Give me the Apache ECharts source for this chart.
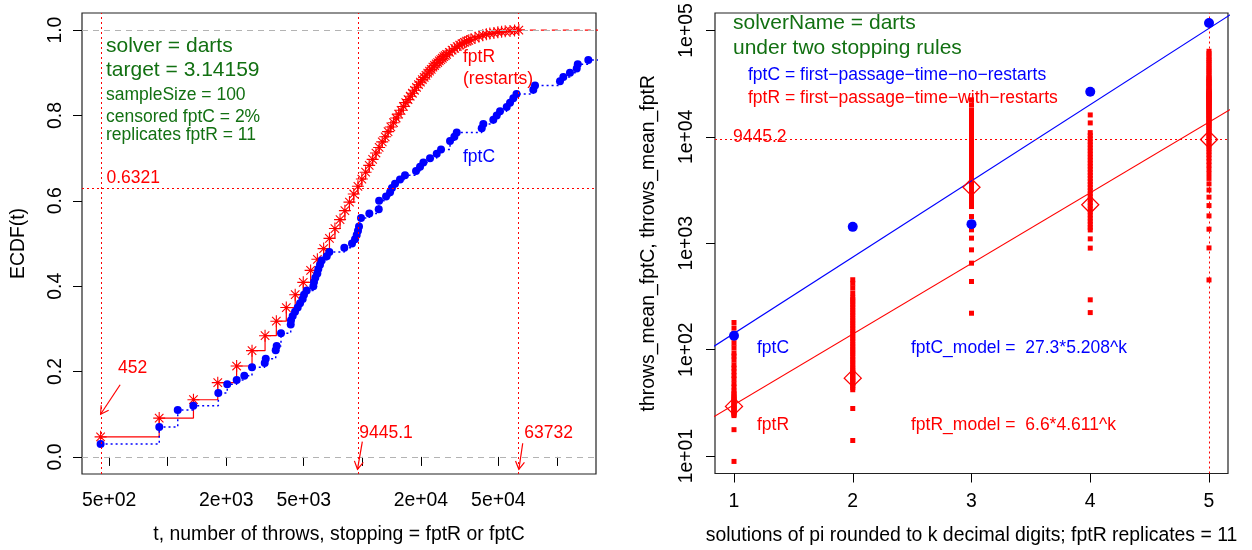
<!DOCTYPE html>
<html>
<head>
<meta charset="utf-8">
<script src="https://cdn.jsdelivr.net/npm/echarts@6/dist/echarts.min.js"></script>
<style>
  html, body { margin: 0; padding: 0; background: #fff; }
  #chart { width: 1252px; height: 550px; }
</style>
</head>
<body>
<div id="chart"></div>
<script>
// ---------- left panel: ECDF of the number of throws (darts, target 3.14159) ----------
const fptR_throws = [452, 904, 1356, 1808, 2260, 2712, 3164, 3616, 4068, 4520, 4972, 5424, 5876, 6328, 6780,
  7232, 7684, 8136, 8588, 9040, 9492, 9944, 10396, 10848, 11300, 11752, 12204, 12656, 13108, 13560,
  14012, 14464, 14916, 15368, 15820, 16272, 16724, 17176, 17628, 18080, 18532, 18984, 19436, 19888, 20340,
  20792, 21244, 21696, 22148, 22600, 23052, 23504, 23956, 24408, 24860, 25312, 25764, 26216, 26668, 27120,
  28024, 28928, 29832, 30736, 31640, 32544, 33448, 34352, 35256, 36160, 37968, 39776, 41584, 43392, 45200,
  47460, 49720, 51980, 54240, 57404, 60568, 63732];
const fptR_ecdf = [0.047, 0.091, 0.134, 0.174, 0.213, 0.249, 0.284, 0.318, 0.350, 0.380, 0.409, 0.437, 0.463, 0.488, 0.512,
  0.535, 0.556, 0.577, 0.597, 0.616, 0.634, 0.651, 0.667, 0.683, 0.697, 0.712, 0.725, 0.738, 0.750, 0.762,
  0.773, 0.783, 0.794, 0.803, 0.812, 0.821, 0.830, 0.837, 0.845, 0.852, 0.859, 0.866, 0.872, 0.878, 0.884,
  0.889, 0.894, 0.899, 0.904, 0.908, 0.913, 0.917, 0.921, 0.924, 0.928, 0.931, 0.934, 0.938, 0.940, 0.943,
  0.948, 0.953, 0.957, 0.961, 0.965, 0.968, 0.971, 0.974, 0.976, 0.978, 0.982, 0.985, 0.988, 0.990, 0.992,
  0.993, 0.995, 0.996, 0.997, 0.998, 0.999, 1.000];

const fptC_throws = [452, 905, 1126, 1354, 1820, 2023, 2262, 2475, 2711, 3152, 3190, 3589, 3630, 3821,
  4287, 4300, 4388, 4510, 4656, 4786, 4939, 5016, 5180, 5601, 5647, 5734, 5872, 5941, 6061, 6184, 6563, 6768,
  8083, 8853, 9174, 9359, 9500, 9617, 9847, 10865, 12144, 12200, 13240, 13884, 14200, 14725, 15618, 16571,
  18880, 19800, 20590, 22280, 24120, 25380, 28230, 29710, 30560, 41080, 41860, 47120, 49050, 51000,
  55210, 57410, 59700, 62000, 75630, 77180, 103700, 107900, 116700, 126400, 128000, 145000,
  190000, 240000, 320000];
const fptC_ecdf = [0.03, 0.07, 0.11, 0.12, 0.15, 0.17, 0.18, 0.19, 0.21, 0.22, 0.23, 0.25, 0.26, 0.29,
  0.31, 0.32, 0.33, 0.34, 0.35, 0.36, 0.37, 0.38, 0.39, 0.40, 0.41, 0.42, 0.43, 0.44, 0.45, 0.46, 0.47, 0.48,
  0.49, 0.50, 0.51, 0.52, 0.53, 0.54, 0.56, 0.57, 0.58, 0.60, 0.61, 0.62, 0.63, 0.64, 0.65, 0.66,
  0.67, 0.68, 0.69, 0.70, 0.71, 0.72, 0.74, 0.75, 0.76, 0.77, 0.78, 0.79, 0.80, 0.81,
  0.82, 0.83, 0.84, 0.85, 0.86, 0.87, 0.88, 0.89, 0.90, 0.91, 0.92, 0.93,
  0.94, 0.96, 0.98];

const fptR_mean_throws = 9445.1;
const ecdf_at_mean = 0.6321;
const fptR_min = 452;
const fptR_max = 63732;

const throwRange = [362.7, 158800];
const throwTicks = [500, 1000, 2000, 5000, 10000, 20000, 50000, 100000];
const throwTickLabels = ['5e+02', '', '2e+03', '5e+03', '', '2e+04', '5e+04', ''];
const ecdfTicks = [0, 0.2, 0.4, 0.6, 0.8, 1.0];
const ecdfTickLabels = ['0.0', '0.2', '0.4', '0.6', '0.8', '1.0'];

// ---------- right panel: mean throws versus k decimal digits of pi ----------
const digits = [1, 2, 3, 4, 5];
const digitTickLabels = ['1', '2', '3', '4', '5'];
const throws_mean_fptC = [135, 1426, 1512, 26500, 117400];
const throws_mean_fptR = [29.3, 54, 3365, 2297, 9445.2];
const fptC_model = [27.3, 5.208];
const fptR_model = [6.6, 4.611];

const fptR_k1 = [180, 160, 143, 128, 115, 104, 93, 87, 80, 72, 67, 62, 57, 53, 48, 44.5, 41, 39, 37.5, 36, 35,
  34, 33, 32, 31, 30, 29.3, 28.6, 28, 27.3, 26.6, 26, 25.3, 24.6, 24, 17.7, 8.9];
const fptR_k2 = [454, 420, 380, 340, 310, 295, 280, 265, 250, 236, 223, 211, 199, 188, 178, 168, 159, 150, 142,
  134, 127, 120, 113, 107, 101, 96, 91, 86, 81, 77, 73, 69, 66, 63, 61, 59, 57, 55, 53, 51.5, 50, 48, 46, 44, 42,
  28, 14];
const fptR_k3 = [22300, 20000, 17900, 16700, 15600, 14600, 13700, 12800, 12000, 11200, 10500, 9800, 9200, 8600,
  8000, 7500, 7000, 6600, 6150, 5750, 5400, 5050, 4700, 4400, 4100, 3850, 3600, 3370, 3150, 2950, 2750, 2570,
  2400, 2213, 1783, 1545, 1337, 1117, 867, 650, 437, 220];
const fptR_k4 = [16070, 13520, 10960, 10260, 9600, 9000, 8420, 7880, 7380, 6900, 6460, 6050, 5660, 5300, 4960,
  4640, 4350, 4070, 3810, 3570, 3340, 3120, 2920, 2740, 2560, 2400, 2250, 2100, 1970, 1840, 1720, 1610, 1510,
  1410, 1334, 1100, 900, 294, 223];
const fptR_k5 = fptR_throws;

const throwsAxisRange = [6.855, 145900];
const throwsTicks = [10, 100, 1000, 10000, 100000];
const throwsTickLabels = ['1e+01', '1e+02', '1e+03', '1e+04', '1e+05'];
const digitRange = [0.84, 5.16];

// ---------- helpers ----------
const LOG = v => Math.log10(v);
const FONT = 'Liberation Sans';
const AXIS_FS = 19.4;
const RED = '#ff0000', BLUE = '#0000ff', GREEN = '#127012', GREY = '#b3b3b3';
const DOT = [2, 3];

function labelLookup(values, labels, transform) {
  return v => {
    for (let i = 0; i < values.length; i++) {
      if (Math.abs(transform(values[i]) - v) < 1e-6) return labels[i];
    }
    return '';
  };
}
const ident = v => v;

function makeAxis(gridIndex, range, ticks, labels, transform, margin, rotate, name, nameGap) {
  return {
    gridIndex, type: 'value',
    min: transform(range[0]), max: transform(range[1]),
    splitLine: { show: false },
    axisLine: { show: false },
    axisTick: { show: true, inside: false, length: 9, lineStyle: { color: '#000', width: 1 },
      customValues: ticks.map(transform) },
    axisLabel: {
      customValues: ticks.filter((t, i) => labels[i] !== '').map(transform),
      formatter: labelLookup(ticks, labels, transform),
      margin, rotate, fontSize: AXIS_FS, color: '#000', fontFamily: FONT
    },
    name, nameLocation: 'middle', nameGap,
    nameTextStyle: { fontSize: AXIS_FS, color: '#000', fontFamily: FONT }
  };
}

// asterisk (pch 8 style)
const STAR = 'path://M0,-10L0,10M-10,0L10,0M-7.07,-7.07L7.07,7.07M-7.07,7.07L7.07,-7.07';

function renderArrow(params, api) {
  const p0 = api.coord([api.value(0), api.value(1)]);
  const p1 = api.coord([api.value(2), api.value(3)]);
  const ang = Math.atan2(p1[1] - p0[1], p1[0] - p0[0]);
  const L = 9, a = Math.PI / 6;
  const h1 = [p1[0] - L * Math.cos(ang - a), p1[1] - L * Math.sin(ang - a)];
  const h2 = [p1[0] - L * Math.cos(ang + a), p1[1] - L * Math.sin(ang + a)];
  return {
    type: 'group', children: [
      { type: 'line', shape: { x1: p0[0], y1: p0[1], x2: p1[0], y2: p1[1] }, style: { stroke: RED, lineWidth: 1.2 } },
      { type: 'polyline', shape: { points: [h1, p1, h2] }, style: { stroke: RED, fill: null, lineWidth: 1.2 } }
    ]
  };
}

// arrows pointing at the min, mean and max of fptR (tail -> head)
const arrows = [
  [LOG(fptR_min * 1.26), 0.169, LOG(fptR_min), 0.10],
  [LOG(fptR_mean_throws * 1.059), 0.036, LOG(fptR_mean_throws), -0.029],
  [LOG(fptR_max * 1.047), 0.032, LOG(fptR_max), -0.029]
];
const arrowText = [String(fptR_min), String(fptR_mean_throws), String(fptR_max)];
const arrowTextAt = [
  [LOG(fptR_min * 1.23), 0.208],
  [LOG(fptR_mean_throws * 1.022), 0.0555],
  [LOG(fptR_max * 1.067), 0.0555]
];

// sample points of fptR per k
const samplesR = [fptR_k1, fptR_k2, fptR_k3, fptR_k4, fptR_k5];
const sampleData = [];
samplesR.forEach((arr, i) => arr.forEach(v => sampleData.push([digits[i], LOG(v)])));

function modelLine(model) {
  const a = LOG(model[0]), b = LOG(model[1]);
  return [0.5, 5.5].map(k => [k, a + k * b]);
}

function txt(x, y, text, color, size) {
  return { type: 'text', x, y, silent: true,
    style: { text, fill: color, fontSize: size, fontFamily: FONT, align: 'left', verticalAlign: 'middle' } };
}

const dottedRed = { color: RED, type: DOT, width: 1 };

const option = {
  animation: false,
  backgroundColor: '#fff',
  grid: [
    { left: 82, top: 13, width: 514, height: 461, show: true, borderColor: '#222', borderWidth: 1.2, backgroundColor: 'transparent' },
    { left: 715, top: 13, width: 513, height: 461, show: true, borderColor: '#222', borderWidth: 1.2, backgroundColor: 'transparent' }
  ],
  xAxis: [
    makeAxis(0, throwRange, throwTicks, throwTickLabels, LOG, 17, 0,
      't, number of throws, stopping = fptR or fptC', 51.5),
    makeAxis(1, digitRange, digits, digitTickLabels, ident, 18.5, 0,
      'solutions of pi rounded to k decimal digits; fptR replicates = 11', 52.5)
  ],
  yAxis: [
    makeAxis(0, [-0.04, 1.04], ecdfTicks, ecdfTickLabels, ident, 16.5, 90, 'ECDF(t)', 54),
    makeAxis(1, throwsAxisRange, throwsTicks, throwsTickLabels, LOG, 19, 90,
      'throws_mean_fptC, throws_mean_fptR', 57)
  ],
  series: [
    // reference lines of the ECDF panel
    {
      type: 'line', xAxisIndex: 0, yAxisIndex: 0, silent: true, symbol: 'none', z: 1,
      data: [[LOG(fptR_max), 1], [LOG(throwRange[1] * 2), 1]],
      lineStyle: { color: RED, type: [6, 5], width: 1.2 },
      markLine: {
        silent: true, symbol: ['none', 'none'], label: { show: false },
        data: [
          { yAxis: 0, lineStyle: { color: GREY, type: [6, 5], width: 1.2 } },
          { yAxis: 1, lineStyle: { color: GREY, type: [6, 5], width: 1.2 } },
          { yAxis: ecdf_at_mean, lineStyle: dottedRed },
          { xAxis: LOG(fptR_min), lineStyle: dottedRed },
          { xAxis: LOG(fptR_mean_throws), lineStyle: dottedRed },
          { xAxis: LOG(fptR_max), lineStyle: dottedRed }
        ]
      }
    },
    {
      name: 'fptR', type: 'line', xAxisIndex: 0, yAxisIndex: 0, step: 'end', z: 3,
      data: fptR_throws.map((t, i) => [LOG(t), fptR_ecdf[i]]),
      symbol: STAR, symbolSize: 12,
      lineStyle: { color: RED, width: 1.2 },
      itemStyle: { color: RED, borderColor: RED, borderWidth: 1.1 }
    },
    {
      name: 'fptC', type: 'line', xAxisIndex: 0, yAxisIndex: 0, step: 'end', z: 4,
      data: fptC_throws.map((t, i) => [LOG(t), fptC_ecdf[i]]),
      symbol: 'circle', symbolSize: 8,
      lineStyle: { color: BLUE, width: 1.5, type: [2, 3] },
      itemStyle: { color: BLUE, borderWidth: 0 }
    },
    {
      type: 'custom', xAxisIndex: 0, yAxisIndex: 0, z: 5, silent: true,
      data: arrows, encode: { x: [0, 2], y: [1, 3] },
      renderItem: renderArrow
    },
    {
      type: 'custom', xAxisIndex: 0, yAxisIndex: 0, z: 5, silent: true,
      data: arrowTextAt, encode: { x: 0, y: 1 },
      renderItem: (params, api) => {
        const p = api.coord([api.value(0), api.value(1)]);
        return { type: 'text', x: p[0], y: p[1],
          style: { text: arrowText[params.dataIndex], fill: RED, fontSize: 17.5, fontFamily: FONT,
            align: 'left', verticalAlign: 'middle' } };
      }
    },

    // ---------- right panel ----------
    {
      type: 'scatter', xAxisIndex: 1, yAxisIndex: 1, z: 2, silent: true,
      data: sampleData, symbol: 'rect', symbolSize: 5,
      itemStyle: { color: RED, opacity: 1 },
      markLine: {
        silent: true, symbol: ['none', 'none'], label: { show: false },
        data: [
          { yAxis: LOG(throws_mean_fptR[4]), lineStyle: dottedRed },
          { xAxis: digits[4], lineStyle: dottedRed }
        ]
      }
    },
    {
      type: 'line', xAxisIndex: 1, yAxisIndex: 1, z: 3, silent: true, symbol: 'none',
      data: modelLine(fptC_model), lineStyle: { color: BLUE, width: 1.1 }
    },
    {
      type: 'line', xAxisIndex: 1, yAxisIndex: 1, z: 3, silent: true, symbol: 'none',
      data: modelLine(fptR_model), lineStyle: { color: RED, width: 1.1 }
    },
    {
      type: 'scatter', xAxisIndex: 1, yAxisIndex: 1, z: 4, silent: true,
      data: digits.map((k, i) => [k, LOG(throws_mean_fptR[i])]),
      symbol: 'diamond', symbolSize: [17, 17],
      itemStyle: { color: 'rgba(0,0,0,0)', borderColor: RED, borderWidth: 1.3, opacity: 1 }
    },
    {
      type: 'scatter', xAxisIndex: 1, yAxisIndex: 1, z: 5, silent: true,
      data: digits.map((k, i) => [k, LOG(throws_mean_fptC[i])]),
      symbol: 'circle', symbolSize: 10,
      itemStyle: { color: BLUE, opacity: 1 }
    }
  ],
  graphic: { elements: [
    txt(106, 46.5, 'solver = darts', GREEN, 21),
    txt(106, 70.5, 'target = 3.14159', GREEN, 21),
    txt(106, 95.5, 'sampleSize = 100', GREEN, 17.5),
    txt(106, 117, 'censored fptC = 2%', GREEN, 17.5),
    txt(106, 135, 'replicates fptR = 11', GREEN, 17.5),
    txt(106.5, 178, String(ecdf_at_mean), RED, 17.5),
    txt(463, 57.5, 'fptR', RED, 17.5),
    txt(463, 79.5, '(restarts)', RED, 17.5),
    txt(463, 157, 'fptC', BLUE, 17.5),

    txt(733, 23.2, 'solverName = darts', GREEN, 21),
    txt(733, 48.2, 'under two stopping rules', GREEN, 21),
    txt(748, 75.5, 'fptC = first\u2212passage\u2212time\u2212no\u2212restarts', BLUE, 17.5),
    txt(748, 98.5, 'fptR = first\u2212passage\u2212time\u2212with\u2212restarts', RED, 17.5),
    txt(733, 137.5, String(throws_mean_fptR[4]), RED, 17.5),
    txt(757, 348, 'fptC', BLUE, 17.5),
    txt(757, 425.5, 'fptR', RED, 17.5),
    txt(911, 348, 'fptC_model =  ' + fptC_model[0] + '*' + fptC_model[1] + '^k', BLUE, 17.5),
    txt(911, 425.5, 'fptR_model =  ' + fptR_model[0] + '*' + fptR_model[1] + '^k', RED, 17.5)
  ] }
};

const chart = echarts.init(document.getElementById('chart'), null, { renderer: 'canvas' });
chart.setOption(option);
</script>
</body>
</html>
